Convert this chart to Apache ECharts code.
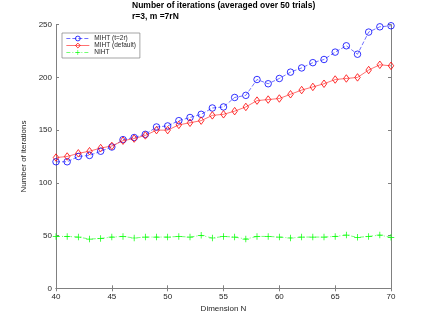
<!DOCTYPE html>
<html>
<head>
<meta charset="utf-8">
<script src="https://cdn.jsdelivr.net/npm/echarts@6/dist/echarts.min.js"></script>
<style>
html, body { margin: 0; padding: 0; background: #fff; }
#main { width: 432px; height: 324px; }
</style>
</head>
<body>
<div id="main"></div>
<script>
// 维度 N
var dims = [40, 41, 42, 43, 44, 45, 46, 47, 48, 49, 50, 51, 52, 53, 54, 55,
            56, 57, 58, 59, 60, 61, 62, 63, 64, 65, 66, 67, 68, 69, 70];
// MIHT (t=2r)
var mihtT2r = [120, 120, 125, 126, 130, 134, 141, 143, 146, 153, 154, 159, 162, 165, 171, 172,
               181, 183, 198, 194, 199, 205, 209, 214, 217, 224, 230, 222, 243, 248, 249];
// MIHT (default)
var mihtDefault = [124, 125, 128, 130, 133, 135, 140, 142, 145, 150, 150, 155, 157, 159, 164, 165,
                   168, 172, 178, 179, 180, 184, 188, 191, 194, 198, 199, 200, 207, 212, 211];
// NIHT
var niht = [49.2, 49.2, 48.6, 46.7, 47.3, 48.6, 49.2, 47.7, 48.6, 48.6, 48.6, 49.2, 48.6, 50.2, 47.7, 49.2,
            48.6, 46.7, 49.2, 49.2, 48.6, 47.7, 48.6, 48.6, 48.6, 49.2, 50.5, 48.3, 49.2, 50.5, 48.3];
var yTicks = [0, 50, 100, 150, 200, 250];

function pairs(vals) {
    var data = [];
    for (var i = 0; i < dims.length; i++) {
        data.push([dims[i], vals[i]]);
    }
    return data;
}

var myChart = echarts.init(document.getElementById('main'));
var axisColor = '#808080';
var txtColor = '#262626';
var font = 'Liberation Sans, Arial, sans-serif';
var hollow = 'rgba(255,255,255,0)';

var option = {
    animation: false,
    textStyle: { fontFamily: font },
    title: [{
        text: 'Number of iterations (averaged over 50 trials)',
        left: 132, top: 1, padding: 0,
        textStyle: { fontSize: 8.5, fontWeight: 'bold', color: '#000', fontFamily: font }
    }, {
        text: 'r=3, m =7rN',
        left: 132, top: 12, padding: 0,
        textStyle: { fontSize: 8.5, fontWeight: 'bold', color: '#000', fontFamily: font }
    }],
    legend: {
        orient: 'vertical',
        left: 62, top: 33,
        itemWidth: 23, itemHeight: 6, itemGap: 0,
        padding: [2, 4, 2, 4],
        borderColor: axisColor, borderWidth: 0.7,
        backgroundColor: '#fff',
        lineStyle: { width: 0.7 },
        itemStyle: { borderWidth: 0.8 },
        textStyle: { fontSize: 6.5, color: txtColor, fontFamily: font, lineHeight: 6 },
        data: ['MIHT (t=2r)', 'MIHT (default)', 'NIHT']
    },
    grid: { left: 56, right: 41, top: 24.7, bottom: 35.7 },
    xAxis: [{
        type: 'value', min: 40, max: 70, interval: 5,
        name: 'Dimension N', nameLocation: 'middle', nameGap: 13,
        nameTextStyle: { fontSize: 8, color: txtColor },
        axisLine: { lineStyle: { color: axisColor, width: 1 } },
        axisTick: { inside: true, length: 3, lineStyle: { color: axisColor } },
        axisLabel: { fontSize: 8, color: txtColor, margin: 4 },
        splitLine: { show: false }
    }, {
        type: 'value', min: 40, max: 70, interval: 5, position: 'top',
        axisLine: { lineStyle: { color: axisColor, width: 1 } },
        axisTick: { inside: true, length: 3, lineStyle: { color: axisColor } },
        axisLabel: { show: false },
        splitLine: { show: false }
    }],
    yAxis: [{
        type: 'value', min: 0, max: 250, interval: 50,
        name: 'Number of iterations', nameLocation: 'middle', nameGap: 17,
        nameTextStyle: { fontSize: 8, color: txtColor },
        axisLine: { show: true, lineStyle: { color: axisColor, width: 1 } },
        axisTick: { show: true, inside: true, length: 3, lineStyle: { color: axisColor } },
        axisLabel: {
            fontSize: 8, color: txtColor, margin: 4,
            formatter: function (v) { return yTicks.indexOf(v) >= 0 ? String(v) : ''; }
        },
        splitLine: { show: false }
    }, {
        type: 'value', min: 0, max: 250, interval: 50, position: 'right',
        axisLine: { show: true, lineStyle: { color: axisColor, width: 1 } },
        axisTick: { show: true, inside: true, length: 3, lineStyle: { color: axisColor } },
        axisLabel: { show: false },
        splitLine: { show: false }
    }],
    series: [{
        name: 'MIHT (t=2r)',
        type: 'line',
        data: pairs(mihtT2r),
        symbol: 'circle', symbolSize: 6.5,
        lineStyle: { color: '#3333ff', width: 0.7, type: [4, 2] },
        itemStyle: { color: hollow, borderColor: '#0000ff', borderWidth: 0.8 }
    }, {
        name: 'MIHT (default)',
        type: 'line',
        data: pairs(mihtDefault),
        symbol: 'diamond', symbolSize: [5.5, 7.5],
        lineStyle: { color: '#ff3333', width: 0.7 },
        itemStyle: { color: hollow, borderColor: '#ff0000', borderWidth: 0.8 }
    }, {
        name: 'NIHT',
        type: 'line',
        data: pairs(niht),
        symbol: 'path://M4,0h1v4h4v1h-4v4h-1v-4h-4v-1h4z', symbolSize: 6.5,
        lineStyle: { color: '#33ff33', width: 0.7, type: [4, 2, 1, 2] },
        itemStyle: { color: '#00ff00', borderWidth: 0 }
    }]
};

if (option && typeof option === 'object') {
    myChart.setOption(option, true);
}
</script>
</body>
</html>
